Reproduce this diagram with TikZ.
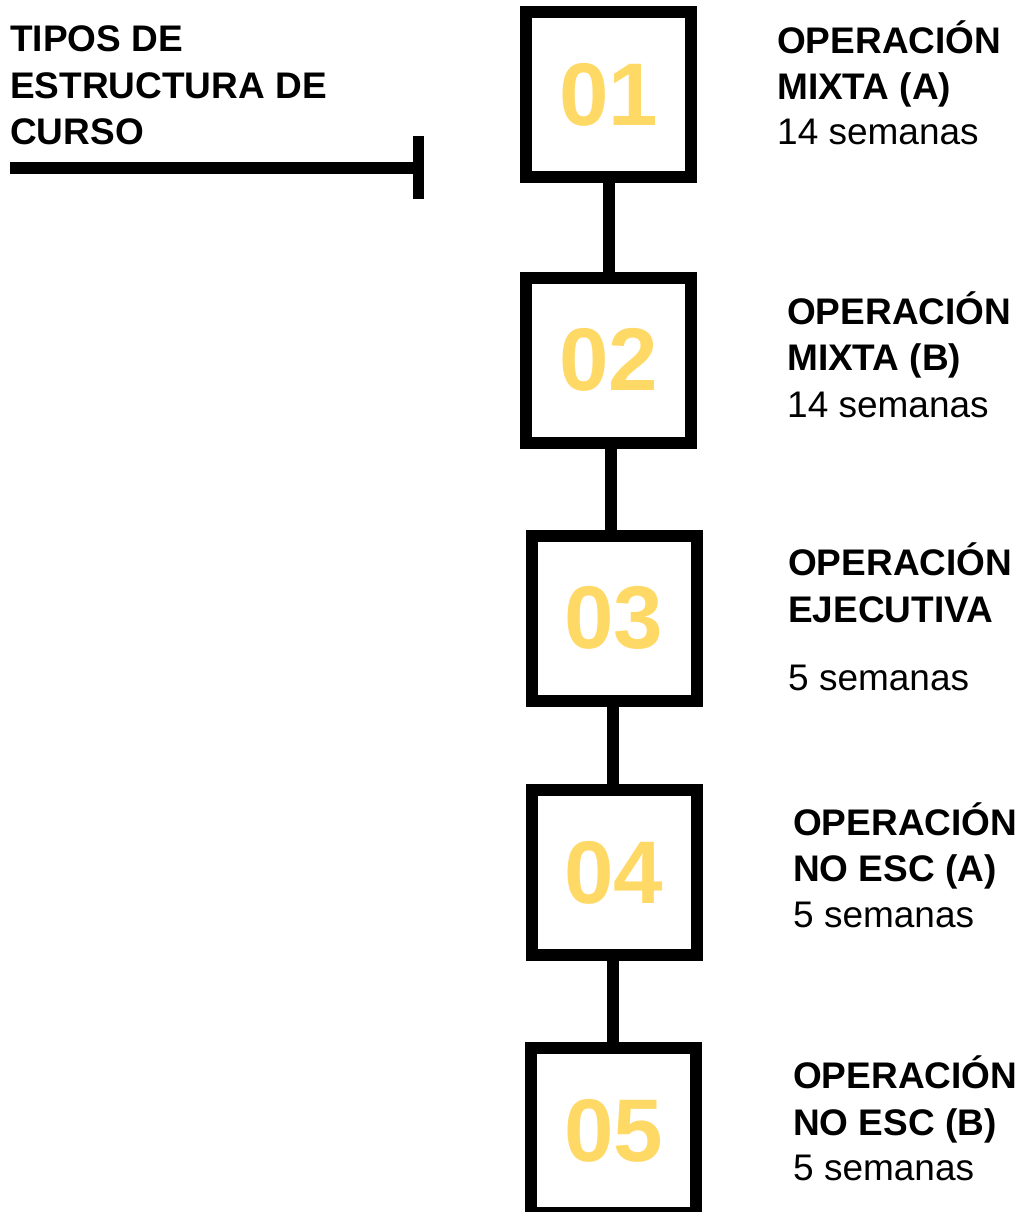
\documentclass[tikz,border=0pt]{standalone}
\usepackage{fontspec}
\setmainfont{Liberation Sans}
\definecolor{numyellow}{HTML}{FFD966}
\begin{document}
\begin{tikzpicture}[x=1pt,y=-1pt,
  stepbox/.style={draw=black,line width=12pt,fill=white,minimum width=165pt,minimum height=165pt,inner sep=0pt,outer sep=0pt},
  num/.style={text=numyellow,font=\fontsize{89}{89}\selectfont\bfseries,inner sep=0pt},
  lbl/.style={anchor=base west,inner sep=0pt,font=\fontsize{37}{46}\selectfont\bfseries},
  sub/.style={anchor=base west,inner sep=0pt,font=\fontsize{37}{46}\selectfont},
  conn/.style={line width=12pt,draw=black}]
\useasboundingbox (0,0) rectangle (1023,1212);
\clip (0,0) rectangle (1023,1212);

% title
\node[lbl] (t1) at (10,52) {TIPOS DE};
\node[lbl] (t2) at (10,99) {ESTRUCTURA DE};
\node[lbl] (t3) at (10,145) {CURSO};
\coordinate (ls) at (10,168);
\coordinate (le) at (413,168);
\coordinate (bt) at (418.5,136);
\coordinate (bb) at (418.5,199);
\draw[conn] (ls) -- (le);
\draw[line width=11pt] (bt) -- (bb);

% boxes
\node[stepbox] (b1) at (608.5,94.5) {};
\node[stepbox] (b2) at (608.5,360) {};
\node[stepbox] (b3) at (614,618) {};
\node[stepbox] (b4) at (614,872.5) {};
\node[stepbox] (b5) at (613.5,1130.5) {};

% connectors
\draw[conn] (b1.south) -- (b1.south |- b2.north);
\draw[conn] ([xshift=2pt]b2.south) -- ([xshift=2pt]b2.south |- b3.north);
\draw[conn] ([xshift=-1.5pt]b3.south) -- ([xshift=-1.5pt]b3.south |- b4.north);
\draw[conn] ([xshift=-1.5pt]b4.south) -- ([xshift=-1.5pt]b4.south |- b5.north);

% numbers
\node[num] (n1) at (b1) {01};
\node[num] (n2) at (b2) {02};
\node[num] (n3) at (b3) {03};
\node[num] (n4) at (b4) {04};
\node[num] (n5) at (b5) {05};

% labels
\node[lbl] (a1) at (777,54) {OPERACIÓN};
\node[lbl] (a2) at (777,100) {MIXTA (A)};
\node[sub] (a3) at (777,144) {14 semanas};

\node[lbl] (c1) at (787,324) {OPERACIÓN};
\node[lbl] (c2) at (787,370) {MIXTA (B)};
\node[sub] (c3) at (787,417) {14 semanas};

\node[lbl] (d1) at (788,575) {OPERACIÓN};
\node[lbl] (d2) at (788,622) {EJECUTIVA};
\node[sub] (d3) at (788,690) {5 semanas};

\node[lbl] (e1) at (793,835) {OPERACIÓN};
\node[lbl] (e2) at (793,881) {NO ESC (A)};
\node[sub] (e3) at (793,927) {5 semanas};

\node[lbl] (f1) at (793,1088) {OPERACIÓN};
\node[lbl] (f2) at (793,1135) {NO ESC (B)};
\node[sub] (f3) at (793,1180) {5 semanas};
\end{tikzpicture}
\end{document}
